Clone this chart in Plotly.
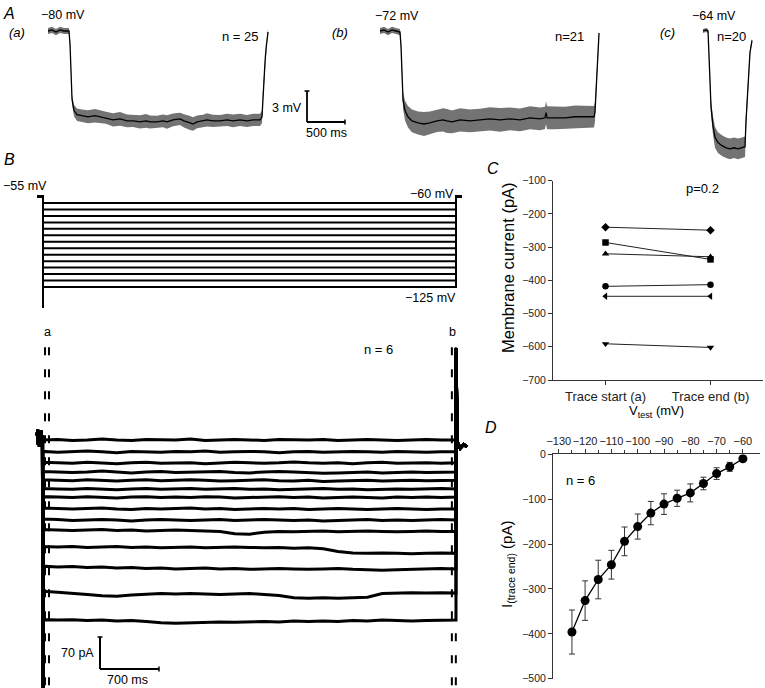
import plotly.graph_objects as go

W, H = 765, 688
FONT = "Arial, Liberation Sans, Helvetica, sans-serif"


def px(x):
    return x / W


def py(y):
    return 1 - y / H


# ======================= DATA =======================
# ---- Panel A: mean voltage change (mV) +/- SEM, time in ms from trace start
A_names = ["(a)", "(b)", "(c)"]
A_hold = ["−80 mV", "−72 mV", "−64 mV"]
A_n = ["n = 25", "n=21", "n=20"]

a_t = [0, 53, 105, 158, 211, 276, 290, 303, 316, 342, 382, 447, 526, 619, 684, 763,
       855, 948, 1040, 1119, 1211, 1290, 1342, 1434, 1513, 1566, 1645, 1737, 1790,
       1869, 1908, 1961, 2040, 2092, 2171, 2264, 2356, 2435, 2527, 2619, 2698, 2790,
       2816, 2829, 2843, 2856, 2869, 2882, 2895]
a_mean = [0, 0.1, -0.1, 0.1, 0, 0, -1.3, -4.2, -6.6, -7.7, -8.1, -8.2, -8.3, -8.2, -8.3,
          -8.4, -8.6, -8.5, -8.7, -8.7, -8.8, -8.7, -8.8, -8.8, -8.7, -8.8, -8.6, -8.5,
          -8.7, -8.9, -9.0, -8.8, -8.7, -8.6, -8.7, -8.7, -8.6, -8.7, -8.6, -8.7, -8.6,
          -8.6, -8.3, -6.1, -4.5, -2.9, -1.7, -0.8, -0.1]
a_sem = [0.3, 0.3, 0.3, 0.3, 0.3, 0.3, 0.3, 0.35, 0.45, 0.55, 0.6,
         0.6, 0.62, 0.65, 0.6, 0.58, 0.63, 0.66, 0.62, 0.6, 0.64, 0.67, 0.63, 0.6, 0.62,
         0.65, 0.61, 0.6, 0.64, 0.68, 0.65, 0.62, 0.6, 0.63, 0.6, 0.58, 0.6, 0.62, 0.6,
         0.58, 0.6, 0.6, 0.6, 0.5, 0.4, 0.35, 0.3, 0.3, 0.3]

b_t = [0, 53, 105, 158, 211, 263, 276, 290, 303, 329, 368, 421, 500, 579, 658, 750, 829,
       882, 947, 1053, 1184, 1316, 1448, 1579, 1711, 1842, 1974, 2106, 2171, 2185, 2198,
       2303, 2435, 2566, 2698, 2816, 2829, 2843, 2856, 2869, 2882]
b_mean = [0, 0.1, -0.1, 0.1, 0, -0.1, -1.4, -4.7, -6.7, -7.7, -8.3, -8.7, -8.9, -9.0,
          -8.9, -8.7, -8.6, -8.7, -8.8, -8.6, -8.7, -8.6, -8.5, -8.6, -8.5, -8.6, -8.4,
          -8.5, -8.4, -7.9, -8.4, -8.4, -8.4, -8.3, -8.3, -8.3, -7.8, -5.7, -3.8, -1.8,
          -0.2]
b_sem = [0.3, 0.3, 0.3, 0.3, 0.3, 0.3, 0.4, 0.6, 0.8, 0.95, 1.05,
         1.1, 1.12, 1.15, 1.1, 1.08, 1.13, 1.16, 1.1, 1.12, 1.1, 1.08, 1.12, 1.15, 1.1,
         1.1, 1.12, 1.1, 1.08, 1.1, 1.12, 1.1, 1.08, 1.1, 1.1, 1.05,
         0.9, 0.7, 0.5, 0.4, 0.3]

c_t = [0, 39, 66, 79, 92, 105, 132, 158, 197, 250, 303, 355, 408, 461, 513, 553, 566,
       579, 592, 605, 618, 645]
c_mean = [0, 0.1, 0, -1.9, -4.8, -7.3, -9.2, -10.3, -10.8, -11.1, -11.3, -11.4, -11.3,
          -11.4, -11.3, -11.2, -8.7, -6.8, -4.8, -3.4, -2.1, -0.9]
c_sem = [0.2, 0.2, 0.2, 0.3, 0.5, 0.7, 0.9, 1.0, 1.0, 1.0, 1.0, 1.0, 1.0, 1.0, 1.0, 1.0,
         0.8, 0.6, 0.5, 0.4, 0.3, 0.2]

A_SCALE_MV = 3
A_SCALE_MS = 500

# ---- Panel B: voltage protocol (mV) and membrane currents (pA)
B_hold_mV = -55
B_levels_mV = [-60, -65, -70, -75, -80, -85, -90, -95, -100, -105, -110, -115, -120, -125]
B_step_ms = 4900
B_tail_ms = 70
B_t = [0, 175, 350, 525, 700, 875, 1050, 1225, 1400, 1575, 1750, 1925, 2100, 2275,
       2450, 2625, 2800, 2975, 3150, 3325, 3500, 3675, 3850, 4025, 4200, 4375, 4550,
       4725, 4900]
B_I = [
    [-10, -9, -11, -10, -8, -10, -11, -9, -10, -10, -8, -11, -10, -9, -10, -11, -9, -10, -10, -9, -11, -10, -9, -10, -11, -10, -9, -10, -10],
    [-35, -37, -36, -34, -36, -38, -35, -36, -37, -35, -36, -34, -37, -36, -35, -36, -38, -36, -35, -37, -36, -35, -36, -37, -35, -36, -37, -36, -36],
    [-59, -60, -61, -59, -60, -62, -60, -59, -61, -60, -60, -62, -61, -59, -60, -61, -60, -58, -60, -61, -60, -62, -60, -59, -61, -60, -60, -61, -60],
    [-79, -80, -81, -80, -78, -80, -82, -80, -79, -81, -80, -80, -79, -81, -82, -80, -79, -80, -81, -83, -82, -81, -80, -82, -81, -80, -81, -80, -80],
    [-97, -98, -99, -97, -98, -100, -98, -97, -99, -98, -97, -98, -100, -99, -98, -97, -99, -100, -98, -101, -100, -99, -98, -100, -99, -98, -99, -98, -98],
    [-116, -117, -118, -116, -117, -119, -117, -116, -118, -117, -116, -118, -117, -116, -118, -117, -119, -118, -117, -116, -118, -117, -119, -118, -117, -118, -117, -116, -117],
    [-134, -135, -136, -134, -135, -137, -135, -134, -136, -135, -136, -134, -135, -137, -136, -135, -134, -136, -135, -137, -136, -135, -136, -137, -135, -136, -135, -136, -135],
    [-159, -160, -161, -160, -159, -161, -162, -160, -161, -160, -159, -161, -160, -162, -161, -160, -161, -160, -162, -161, -160, -161, -162, -161, -160, -161, -162, -161, -161],
    [-183, -184, -186, -185, -184, -185, -187, -185, -184, -185, -186, -185, -184, -186, -185, -184, -185, -186, -185, -187, -186, -185, -184, -186, -185, -186, -185, -184, -185],
    [-206, -207, -208, -207, -206, -208, -207, -209, -208, -207, -208, -209, -210, -215, -216, -212, -210, -211, -210, -209, -211, -210, -209, -210, -211, -210, -209, -210, -210],
    [-243, -244, -243, -245, -244, -243, -245, -244, -246, -245, -244, -246, -245, -244, -245, -246, -245, -247, -246, -248, -254, -257, -258, -257, -258, -259, -258, -257, -258],
    [-286, -288, -287, -289, -288, -290, -289, -291, -290, -292, -291, -290, -292, -291, -293, -292, -291, -292, -293, -292, -291, -293, -294, -295, -294, -293, -292, -291, -292],
    [-341, -343, -345, -348, -351, -352, -349, -347, -346, -347, -346, -347, -348, -347, -346, -348, -350, -355, -356, -355, -356, -355, -354, -346, -345, -344, -345, -344, -345],
    [-403, -404, -403, -405, -404, -406, -405, -407, -410, -411, -410, -409, -408, -409, -408, -407, -408, -406, -407, -406, -407, -405, -406, -404, -405, -406, -405, -404, -404],
]
B_pre_t = [-70, -63, -56, -49, -42, -35, -28, -21, -14, -7]
B_pre_I = [0, 12, -20, 8, -25, 5, -18, 10, -22, 0]
B_onset_pA = -600
B_offset_pA = 190
B_post_t = [4915, 4950, 4990, 5030]
B_post_I = [-15, -28, -20, -25]
B_mark_a_ms = [24, 71]
B_mark_b_ms = [4851, 4898]
B_SCALE_PA = 70
B_SCALE_MS = 700

# ---- Panel C: membrane current at trace start (a) and end (b), pA
C_cats = ["Trace start (a)", "Trace end (b)"]
C_start = [-240, -286, -320, -418, -448, -591]
C_end = [-249, -337, -329, -413, -448, -602]
C_symbols = ["diamond", "square", "triangle-up", "circle", "triangle-left", "triangle-down"]

# ---- Panel D: I(trace end) vs V_test
D_v = [-125, -120, -115, -110, -105, -100, -95, -90, -85, -80, -75, -70, -65, -60]
D_i = [-396, -326, -279, -246, -194, -161, -131, -111, -98, -86, -65, -43, -28, -10]
D_err = [49, 44, 43, 32, 32, 28, 26, 23, 18, 20, 14, 13, 10, 3]

# ======================= FIGURE =======================
fig = go.Figure()

# Panel A scaling
A_MS = 500 / 38.0          # ms per pixel
A_PXMV = 31 / 3.0          # pixels per mV
A_base_px = 31
A_ytop = A_base_px / A_PXMV
A_ybot = -(170 - A_base_px) / A_PXMV
A_off_ms = [48 * A_MS, 380 * A_MS, 703 * A_MS]

for k, (tt, mm, ss) in enumerate([(a_t, a_mean, a_sem), (b_t, b_mean, b_sem), (c_t, c_mean, c_sem)]):
    xs = [t + A_off_ms[k] for t in tt]
    up = [m + s for m, s in zip(mm, ss)]
    lo = [m - s for m, s in zip(mm, ss)]
    fig.add_trace(go.Scatter(x=xs, y=up, mode="lines", line=dict(width=0, color="#777"),
                             xaxis="x", yaxis="y", showlegend=False, hoverinfo="skip"))
    fig.add_trace(go.Scatter(x=xs, y=lo, mode="lines", line=dict(width=0, color="#777"),
                             fill="tonexty", fillcolor="rgb(115,115,115)",
                             xaxis="x", yaxis="y", showlegend=False, hoverinfo="skip"))
    fig.add_trace(go.Scatter(x=xs, y=mm, mode="lines", line=dict(width=1.3, color="black"),
                             xaxis="x", yaxis="y", showlegend=False))

# Panel B scaling
B_MS = 700 / 59.0
B_x0 = 43

for V in B_levels_mV:
    fig.add_trace(go.Scatter(
        x=[-70, 0, 0, B_step_ms, B_step_ms, B_step_ms + B_tail_ms],
        y=[B_hold_mV, B_hold_mV, V, V, B_hold_mV, B_hold_mV],
        mode="lines", line=dict(width=2, color="black"),
        xaxis="x2", yaxis="y2", showlegend=False))

for I in B_I:
    xs = B_pre_t + [0] + B_t + [B_step_ms] + B_post_t
    ys = B_pre_I + [B_onset_pA] + I + [B_offset_pA] + B_post_I
    fig.add_trace(go.Scatter(x=xs, y=ys, mode="lines",
                             line=dict(width=3, color="black"),
                             xaxis="x2", yaxis="y3", showlegend=False))

# Panel C
for s, e, sym in zip(C_start, C_end, C_symbols):
    fig.add_trace(go.Scatter(x=C_cats, y=[s, e], mode="lines+markers",
                             line=dict(width=1, color="#222"),
                             marker=dict(symbol=sym, size=6.5, color="black"),
                             xaxis="x4", yaxis="y4", showlegend=False))

# Panel D
fig.add_trace(go.Scatter(x=D_v, y=D_i, mode="lines+markers",
                         line=dict(width=1.3, color="black"),
                         marker=dict(size=9, color="black"),
                         error_y=dict(type="data", array=D_err, thickness=1, width=3, color="#333"),
                         xaxis="x5", yaxis="y5", showlegend=False))

shapes = []
# Panel A scale bar
sb_x = 307 * A_MS
sb_y = -(122 - A_base_px) / A_PXMV
shapes.append(dict(type="line", xref="x", yref="y", x0=sb_x, x1=sb_x, y0=sb_y, y1=sb_y + A_SCALE_MV,
                   line=dict(color="black", width=1.8)))
shapes.append(dict(type="line", xref="x", yref="y", x0=sb_x, x1=sb_x + A_SCALE_MS, y0=sb_y, y1=sb_y,
                   line=dict(color="black", width=1.8)))
shapes.append(dict(type="line", xref="x", yref="y", x0=sb_x - 2.5 * A_MS, x1=sb_x + 2.5 * A_MS,
                   y0=sb_y + A_SCALE_MV, y1=sb_y + A_SCALE_MV, line=dict(color="black", width=1.5)))
shapes.append(dict(type="line", xref="x", yref="y", x0=sb_x + A_SCALE_MS, x1=sb_x + A_SCALE_MS,
                   y0=sb_y - 2.5 / A_PXMV, y1=sb_y + 2.5 / A_PXMV, line=dict(color="black", width=1.5)))

# Panel B protocol: onset artefact continuing below
shapes.append(dict(type="line", xref="x2", yref="y2", x0=0, x1=0, y0=B_hold_mV, y1=-141.3,
                   line=dict(color="black", width=2)))

# Panel B dashed markers a / b
for xm in B_mark_a_ms + B_mark_b_ms:
    shapes.append(dict(type="line", xref="x2", yref="y3", x0=xm, x1=xm, y0=193, y1=-560,
                       line=dict(color="black", width=2, dash="8px,14px")))

# Panel B scale bar
PXPA = 32 / 70.0
sbx = (100 - B_x0) * B_MS
sby = (435.4 - 669) / PXPA
shapes.append(dict(type="line", xref="x2", yref="y3", x0=sbx, x1=sbx, y0=sby, y1=sby + B_SCALE_PA,
                   line=dict(color="black", width=2)))
shapes.append(dict(type="line", xref="x2", yref="y3", x0=sbx, x1=sbx + B_SCALE_MS, y0=sby, y1=sby,
                   line=dict(color="black", width=2)))
shapes.append(dict(type="line", xref="x2", yref="y3", x0=sbx - 2.5 * B_MS, x1=sbx + 2.5 * B_MS,
                   y0=sby + B_SCALE_PA, y1=sby + B_SCALE_PA, line=dict(color="black", width=1.5)))
shapes.append(dict(type="line", xref="x2", yref="y3", x0=sbx + B_SCALE_MS, x1=sbx + B_SCALE_MS,
                   y0=sby - 2.5 / PXPA, y1=sby + 2.5 / PXPA, line=dict(color="black", width=1.5)))

annotations = []


def ann(text, x, y, size=12.5, xanchor="center", yanchor="middle", angle=0):
    annotations.append(dict(text=text, x=px(x), y=py(y), xref="paper", yref="paper",
                            showarrow=False, xanchor=xanchor, yanchor=yanchor,
                            textangle=angle, font=dict(family=FONT, size=size, color="black")))


# Panel A labels
ann("<i>A</i>", 9, 13, size=16)
ann("<i>" + A_names[0] + "</i>", 17, 33, size=13)
ann("<i>" + A_names[1] + "</i>", 340, 33, size=13)
ann("<i>" + A_names[2] + "</i>", 667, 33, size=13)
ann(A_hold[0], 63, 15)
ann(A_hold[1], 397, 16)
ann(A_hold[2], 714, 16)
ann(A_n[0], 240, 37, size=13)
ann(A_n[1], 569, 37, size=13)
ann(A_n[2], 731, 37, size=13)
ann(f"{A_SCALE_MV} mV", 304, 108, xanchor="right")
ann(f"{A_SCALE_MS} ms", 326, 133)

# Panel B labels
ann("<i>B</i>", 9, 160, size=16)
ann("−55 mV", 25, 186)
ann("−60 mV", 432, 194)
ann("−125 mV", 430, 298)
ann("a", 47, 332)
ann("b", 452, 332)
ann("n = 6", 378, 349, size=13)
ann(f"{B_SCALE_PA} pA", 77, 653)
ann(f"{B_SCALE_MS} ms", 128, 680)

# Panel C labels
ann("<i>C</i>", 493, 168, size=16)
ann("p=0.2", 702, 188, size=13)
ann("Membrane current (pA)", 508, 268, size=16.5, angle=-90)
ann("V<sub>test</sub> (mV)", 656, 412, size=13)

# Panel D labels
ann("<i>D</i>", 491, 427, size=16)
ann("n = 6", 580, 480, size=13)
ann("I<sub>(trace end)</sub> (pA)", 507, 565, size=15, angle=-90)

axis_common = dict(showgrid=False, zeroline=False, showline=True, linecolor="#333",
                   linewidth=1, ticks="outside", tickcolor="#333", ticklen=4,
                   automargin=False, tickangle=0,
                   tickfont=dict(family=FONT, size=10.5, color="#222"))

fig.update_layout(
    width=W, height=H,
    margin=dict(l=0, r=0, t=0, b=0, pad=0, autoexpand=False),
    paper_bgcolor="white", plot_bgcolor="rgba(0,0,0,0)",
    font=dict(family=FONT, color="black"),
    showlegend=False,
    xaxis=dict(domain=[0, 1], range=[0, W * A_MS], visible=False, anchor="y"),
    yaxis=dict(domain=[py(170), 1], range=[A_ybot, A_ytop], visible=False, anchor="x"),
    xaxis2=dict(domain=[0, px(480)], range=[-B_x0 * B_MS, (480 - B_x0) * B_MS],
                visible=False, anchor="y2"),
    yaxis2=dict(domain=[py(315), py(180)],
                range=[-125 - (315 - 287) / (84 / 65.0), -60 + (203 - 180) / (84 / 65.0)],
                visible=False, anchor="x2"),
    yaxis3=dict(domain=[0, py(320)], range=[(435.4 - 688) / PXPA, (435.4 - 320) / PXPA],
                visible=False, anchor="x2"),
    xaxis4=dict(domain=[px(553), px(763)], type="category", range=[-0.5, 1.5],
                anchor="y4", **{**axis_common, "tickfont": dict(family=FONT, size=13, color="#222")}),
    yaxis4=dict(domain=[py(380), py(180.7)], range=[-700, -100], dtick=100,
                anchor="x4", **axis_common),
    xaxis5=dict(domain=[px(553), px(760)], range=[-132.2, -53.5], side="top",
                tickvals=[-130, -120, -110, -100, -90, -80, -70, -60],
                minor=dict(tickvals=[-125, -115, -105, -95, -85, -75, -65], ticks="outside",
                           ticklen=3, tickcolor="#333"),
                anchor="y5", **{**axis_common, "tickfont": dict(family=FONT, size=11, color="#222")}),
    yaxis5=dict(domain=[py(678.7), py(454.3)], range=[-500, 0], dtick=100,
                anchor="x5", **axis_common),
    shapes=shapes,
    annotations=annotations,
)

fig.write_html("out.html", config={"displayModeBar": False},
               post_script="document.body.style.margin='0';")
